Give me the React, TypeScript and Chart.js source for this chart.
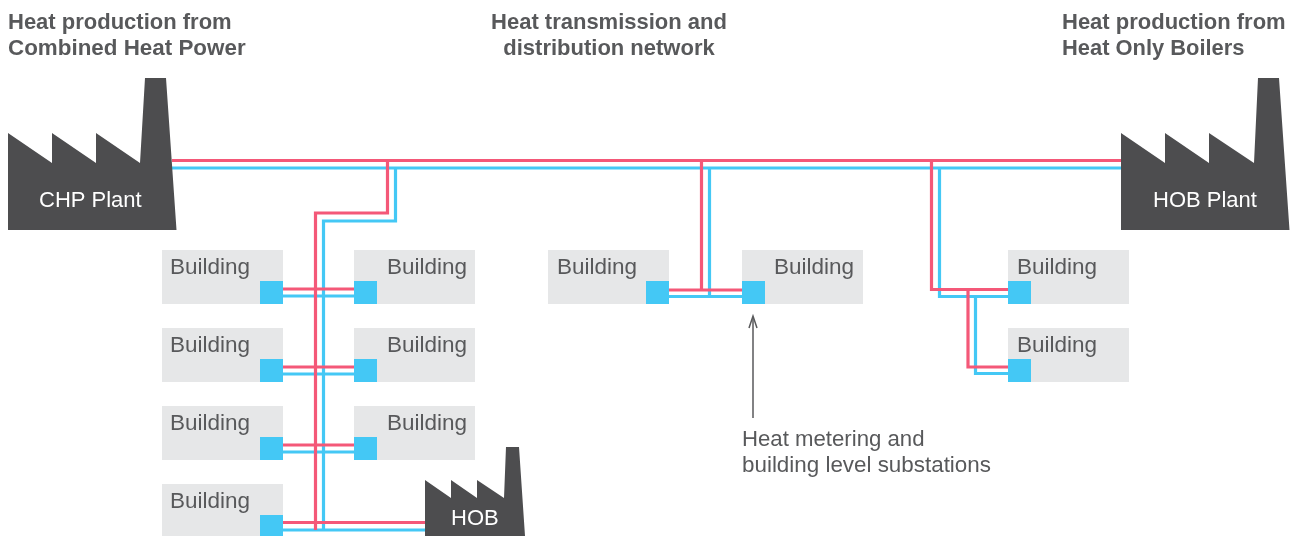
import React, { useEffect, useRef } from "react";
import { Chart, registerables } from "chart.js";

Chart.register(...registerables);

type P = [number, number];

const chpPlant: P[] = [[8, 230], [8, 133], [52, 163], [52, 133], [96, 163], [96, 133], [140, 163], [145, 78], [166, 78], [176.5, 230]];
const hobPlant: P[] = [[1121, 230], [1121, 133], [1165, 163], [1165, 133], [1209, 163], [1209, 133], [1254, 163], [1258, 78], [1279, 78], [1289.5, 230]];
const hobSmall: P[] = [[425, 536], [425, 480], [451, 498], [451, 480], [477, 498], [477, 480], [504, 498], [506, 447], [519, 447], [525, 536]];

const buildingCorners: P[] = [
  [162, 250], [354, 250], [162, 328], [354, 328], [162, 406], [354, 406], [162, 484],
  [548, 250], [742, 250], [1008, 250], [1008, 328],
];
const substationCorners: P[] = [
  [260, 281], [354, 281], [260, 359], [354, 359], [260, 437], [354, 437], [260, 515],
  [646, 281], [742, 281], [1008, 281], [1008, 359],
];

const redPipes: P[][] = [
  [[172, 160.5], [1121, 160.5]],
  [[387.5, 160.5], [387.5, 213], [315.5, 213], [315.5, 530]],
  [[283, 289], [354, 289]],
  [[283, 367], [354, 367]],
  [[283, 445], [354, 445]],
  [[283, 522.5], [425, 522.5]],
  [[701.5, 160.5], [701.5, 290]],
  [[669, 290], [742, 290]],
  [[931.5, 160.5], [931.5, 289.5], [1008, 289.5]],
  [[968, 289.5], [968, 367], [1008, 367]],
];
const bluePipes: P[][] = [
  [[172, 168], [1121, 168]],
  [[395.5, 168], [395.5, 221], [323.5, 221], [323.5, 530]],
  [[283, 296], [354, 296]],
  [[283, 374], [354, 374]],
  [[283, 452], [354, 452]],
  [[283, 530], [425, 530]],
  [[709.5, 168], [709.5, 296.5]],
  [[669, 296.5], [742, 296.5]],
  [[939.5, 168], [939.5, 296.5], [1008, 296.5]],
  [[975.5, 296.5], [975.5, 373.5], [1008, 373.5]],
];
const arrowShaft: P[] = [[753, 418], [753, 317]];
const arrowHead: P[] = [[749, 328], [753, 316], [757, 328]];

const headingTexts = ["Heat production from", "Combined Heat Power", "Heat transmission and", "distribution network", "Heat production from", "Heat Only Boilers"];
const headingAnchors: P[] = [[8, 29], [8, 55], [609, 29], [609, 55], [1062, 29], [1062, 55]];
const headingAligns = ["left", "left", "center", "center", "left", "left"];
const headingSizes = [22, 22.4, 22, 22, 22, 21.9];

const buildingLabel = "Building";
const buildingLabelAnchors: P[] = [
  [170, 274], [387, 274], [170, 352], [387, 352], [170, 430], [387, 430], [170, 508],
  [557, 274], [774, 274], [1017, 274], [1017, 352],
];
const plantTexts = ["CHP Plant", "HOB Plant", "HOB"];
const plantAnchors: P[] = [[39, 207], [1153, 207], [451, 525]];
const noteTexts = ["Heat metering and", "building level substations"];
const noteAnchors: P[] = [[742, 446], [742, 472]];
const noteSizes = [22.2, 22.4];

const DARK = "#4d4d4f";
const GREY = "#e6e7e8";
const BLUE = "#44c8f5";
const RED = "#f45878";
const TEXT = "#58595b";
const FONT = '"Liberation Sans", Arial, sans-serif';

const toPoints = (ps: P[]) => ps.map(([x, y]) => ({ x, y }));
const rect = ([x, y]: P, w: number, h: number): P[] => [[x, y], [x + w, y], [x + w, y + h], [x, y + h]];

const shape = (ps: P[], color: string) => ({
  data: toPoints(ps),
  showLine: true,
  fill: "shape",
  backgroundColor: color,
  borderWidth: 0,
  borderColor: color,
  pointRadius: 0,
  tension: 0,
});
const stroke = (ps: P[], color: string, width: number) => ({
  data: toPoints(ps),
  showLine: true,
  fill: false,
  borderColor: color,
  borderWidth: width,
  borderJoinStyle: "miter",
  borderCapStyle: "butt",
  pointRadius: 0,
  tension: 0,
});

const textPlugin = {
  id: "diagramText",
  afterDatasetsDraw(chart: any) {
    const { ctx, scales } = chart;
    const put = (t: string, a: P, font: string, color: string, align = "left") => {
      ctx.font = font;
      ctx.fillStyle = color;
      ctx.textAlign = align;
      ctx.textBaseline = "alphabetic";
      ctx.fillText(t, scales.x.getPixelForValue(a[0]), scales.y.getPixelForValue(a[1]));
    };
    ctx.save();
    headingTexts.forEach((t, i) => put(t, headingAnchors[i], `bold ${headingSizes[i]}px ${FONT}`, TEXT, headingAligns[i]));
    buildingLabelAnchors.forEach((a) => put(buildingLabel, a, `22.5px ${FONT}`, TEXT));
    plantTexts.forEach((t, i) => put(t, plantAnchors[i], `22px ${FONT}`, "#ffffff"));
    noteTexts.forEach((t, i) => put(t, noteAnchors[i], `${noteSizes[i]}px ${FONT}`, TEXT));
    ctx.restore();
  },
};

export default function App() {
  const ref = useRef<HTMLCanvasElement>(null);
  useEffect(() => {
    const layers = [
      ...buildingCorners.map((c) => shape(rect(c, 121, 54), GREY)),
      ...bluePipes.map((p) => stroke(p, BLUE, 3.2)),
      ...redPipes.map((p) => stroke(p, RED, 3.2)),
      ...substationCorners.map((c) => shape(rect(c, 23, 23), BLUE)),
      shape(chpPlant, DARK),
      shape(hobPlant, DARK),
      shape(hobSmall, DARK),
      stroke(arrowShaft, TEXT, 1.5),
      stroke(arrowHead, TEXT, 1.5),
    ];
    const chart = new Chart(ref.current as HTMLCanvasElement, {
      type: "scatter",
      data: { datasets: layers.map((d, i) => ({ ...d, order: layers.length - i })) as any },
      options: {
        animation: false,
        responsive: false,
        events: [],
        layout: { padding: 0 },
        plugins: { legend: { display: false }, tooltip: { enabled: false } },
        scales: {
          x: { type: "linear", min: 0, max: 1300, display: false },
          y: { type: "linear", min: 0, max: 536, reverse: true, display: false },
        },
      },
      plugins: [textPlugin],
    } as any);
    return () => chart.destroy();
  }, []);
  return (
    <div style={{ position: "fixed", left: 0, top: 0, width: 1300, height: 536, background: "#fff" }}>
      <canvas ref={ref} width={1300} height={536} style={{ display: "block" }} />
    </div>
  );
}
